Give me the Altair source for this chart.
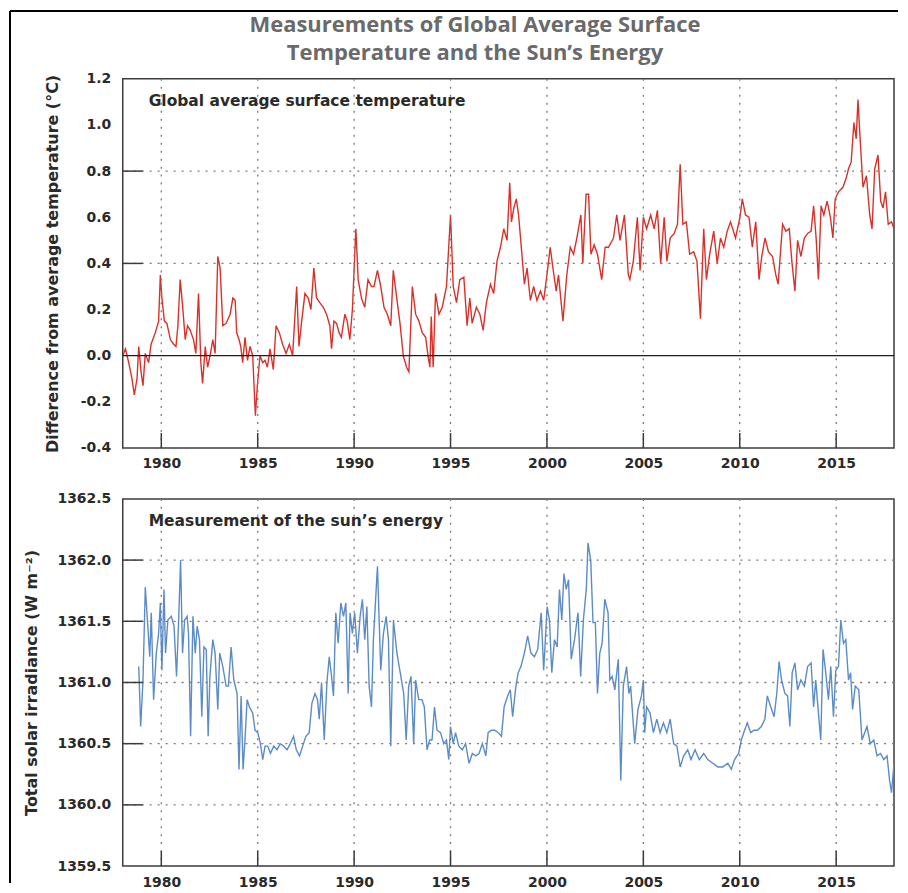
import altair as alt
import pandas as pd

# ---------------- data ----------------
temp_year = [
    1978.00, 1978.14, 1978.31, 1978.48, 1978.60, 1978.74, 1978.83, 1978.95, 1979.05, 1979.17,
    1979.34, 1979.47, 1979.69, 1979.86, 1979.95, 1980.03, 1980.16, 1980.29, 1980.47, 1980.64,
    1980.76, 1980.86, 1980.98, 1981.12, 1981.24, 1981.36, 1981.50, 1981.67, 1981.79, 1981.93,
    1982.05, 1982.14, 1982.28, 1982.40, 1982.53, 1982.67, 1982.79, 1982.93, 1983.05, 1983.19,
    1983.36, 1983.57, 1983.71, 1983.83, 1983.91, 1984.03, 1984.12, 1984.22, 1984.34, 1984.47,
    1984.60, 1984.74, 1984.88, 1984.98, 1985.12, 1985.26, 1985.38, 1985.50, 1985.64, 1985.81,
    1985.95, 1986.12, 1986.29, 1986.47, 1986.64, 1986.81, 1987.02, 1987.14, 1987.28, 1987.45,
    1987.62, 1987.76, 1987.91, 1988.05, 1988.22, 1988.40, 1988.57, 1988.74, 1988.83, 1988.95,
    1989.09, 1989.22, 1989.34, 1989.52, 1989.64, 1989.78, 1989.91, 1990.09, 1990.21, 1990.38,
    1990.55, 1990.72, 1990.90,
    1991.03, 1991.21, 1991.38, 1991.55, 1991.72, 1991.90, 1992.03, 1992.21, 1992.38, 1992.55,
    1992.72, 1992.84, 1993.02, 1993.19, 1993.36, 1993.53, 1993.71, 1993.83, 1993.93, 1994.00,
    1994.10, 1994.22, 1994.40, 1994.57, 1994.79, 1995.00, 1995.14, 1995.31, 1995.48, 1995.69,
    1995.86, 1996.00, 1996.12, 1996.34, 1996.52, 1996.69, 1996.86, 1997.07, 1997.24, 1997.41,
    1997.59, 1997.76, 1997.93, 1998.07, 1998.16, 1998.28, 1998.41, 1998.53, 1998.71, 1998.83,
    1998.97, 1999.14, 1999.31, 1999.48, 1999.66, 1999.83, 2000.00, 2000.17, 2000.31, 2000.48,
    2000.60, 2000.83, 2001.03, 2001.21, 2001.38, 2001.55, 2001.76, 2001.86, 2002.03, 2002.16,
    2002.28, 2002.45, 2002.62, 2002.84, 2003.02, 2003.19, 2003.45, 2003.62, 2003.79, 2004.02,
    2004.22,
    2004.30, 2004.48, 2004.69, 2004.83, 2005.00, 2005.17, 2005.38, 2005.56, 2005.73, 2005.90,
    2006.08, 2006.22, 2006.39, 2006.60, 2006.77, 2006.91, 2007.05, 2007.23, 2007.40, 2007.61,
    2007.78, 2007.96, 2008.13, 2008.27, 2008.44, 2008.65, 2008.83, 2009.00, 2009.17, 2009.35,
    2009.52, 2009.78, 2010.01, 2010.13, 2010.30, 2010.48, 2010.65, 2010.83, 2011.00, 2011.14,
    2011.31, 2011.49, 2011.70, 2011.87, 2011.99, 2012.22, 2012.39, 2012.57, 2012.70, 2012.86,
    2013.00, 2013.17, 2013.35, 2013.52, 2013.70, 2013.83, 2013.96, 2014.08, 2014.22, 2014.36,
    2014.53, 2014.70, 2014.83, 2014.95, 2015.12, 2015.35, 2015.52, 2015.64, 2015.78, 2015.92,
    2016.04, 2016.13, 2016.27, 2016.39, 2016.57, 2016.74, 2016.86, 2017.00, 2017.17, 2017.31,
    2017.43, 2017.56, 2017.70, 2017.87, 2018.00,
]
temp_anom = [
    0.00, 0.03, -0.03, -0.10, -0.17, -0.10, 0.04, -0.07, -0.13, 0.01,
    -0.03, 0.05, 0.10, 0.15, 0.35, 0.25, 0.15, 0.14, 0.07, 0.05,
    0.04, 0.13, 0.33, 0.20, 0.07, 0.13, 0.11, 0.07, 0.01, 0.27,
    -0.03, -0.12, 0.04, -0.05, 0.00, 0.07, 0.01, 0.43, 0.38, 0.13,
    0.14, 0.18, 0.25, 0.24, 0.10, 0.07, 0.04, -0.03, 0.08, -0.02,
    0.04, 0.00, -0.26, -0.13, 0.00, -0.03, -0.02, -0.05, 0.03, -0.06,
    0.13, 0.10, 0.05, 0.01, 0.05, 0.00, 0.30, 0.04, 0.15, 0.27,
    0.25, 0.20, 0.38, 0.25, 0.23, 0.21, 0.18, 0.13, 0.03, 0.15,
    0.14, 0.10, 0.08, 0.18, 0.15, 0.07, 0.20, 0.55, 0.33, 0.25,
    0.21, 0.33, 0.30,
    0.30, 0.37, 0.30, 0.21, 0.18, 0.13, 0.37, 0.25, 0.14, 0.00,
    -0.05, -0.07, 0.30, 0.18, 0.15, 0.10, 0.08, 0.00, -0.05, 0.17,
    -0.05, 0.27, 0.18, 0.21, 0.30, 0.61, 0.30, 0.23, 0.33, 0.34,
    0.13, 0.25, 0.14, 0.21, 0.18, 0.11, 0.23, 0.31, 0.27, 0.41,
    0.47, 0.55, 0.50, 0.75, 0.58, 0.64, 0.68, 0.61, 0.43, 0.31,
    0.38, 0.24, 0.30, 0.24, 0.28, 0.24, 0.35, 0.47, 0.38, 0.28,
    0.35, 0.15, 0.35, 0.47, 0.44, 0.51, 0.61, 0.40, 0.70, 0.70,
    0.44, 0.48, 0.44, 0.33, 0.47, 0.47, 0.51, 0.61, 0.50, 0.61,
    0.35,
    0.33, 0.41, 0.60, 0.37, 0.60, 0.55, 0.61, 0.55, 0.63, 0.40,
    0.60, 0.41, 0.51, 0.53, 0.57, 0.83, 0.57, 0.58, 0.44, 0.45,
    0.41, 0.16, 0.55, 0.33, 0.44, 0.54, 0.40, 0.51, 0.47, 0.54,
    0.58, 0.51, 0.60, 0.68, 0.61, 0.60, 0.47, 0.58, 0.33, 0.43,
    0.51, 0.45, 0.43, 0.35, 0.31, 0.57, 0.54, 0.55, 0.41, 0.28,
    0.50, 0.43, 0.51, 0.53, 0.54, 0.65, 0.51, 0.33, 0.65, 0.61,
    0.67, 0.60, 0.51, 0.68, 0.71, 0.73, 0.77, 0.81, 0.84, 1.01,
    0.94, 1.11, 0.90, 0.73, 0.78, 0.61, 0.55, 0.81, 0.87, 0.67,
    0.64, 0.71, 0.57, 0.58, 0.55,
]

tsi_year = [
    1978.83, 1978.93, 1979.05, 1979.17, 1979.28, 1979.40, 1979.48, 1979.60, 1979.74, 1979.86,
    1979.95, 1980.03, 1980.14, 1980.22, 1980.34, 1980.52, 1980.66, 1980.79, 1980.90, 1981.00,
    1981.10, 1981.21, 1981.34, 1981.41, 1981.52, 1981.64, 1981.76, 1981.86, 1981.98, 1982.10,
    1982.21, 1982.33, 1982.43, 1982.52, 1982.67, 1982.79, 1982.93, 1983.03, 1983.19, 1983.36,
    1983.48, 1983.62, 1983.76, 1983.93, 1984.03, 1984.14, 1984.24, 1984.34, 1984.45, 1984.57,
    1984.74, 1984.86, 1985.00, 1985.14, 1985.26, 1985.38, 1985.52, 1985.66, 1985.83, 1986.00,
    1986.17, 1986.34, 1986.52, 1986.69, 1986.86, 1987.00, 1987.17, 1987.33, 1987.50, 1987.67,
    1987.81, 1987.97, 1988.10, 1988.19, 1988.31, 1988.45, 1988.59, 1988.71, 1988.83, 1988.93,
    1989.05, 1989.17, 1989.31, 1989.45, 1989.57, 1989.69, 1989.79, 1989.91, 1990.03, 1990.17,
    1990.31, 1990.43, 1990.55, 1990.66, 1990.78, 1990.90,
    1991.00, 1991.21, 1991.38, 1991.52, 1991.66, 1991.78, 1991.90, 1992.04, 1992.22, 1992.39,
    1992.57, 1992.70, 1992.83, 1992.95, 1993.09, 1993.19, 1993.35, 1993.52, 1993.64, 1993.78,
    1993.92, 1994.04, 1994.17, 1994.30, 1994.48, 1994.65, 1994.79, 1994.91, 1995.00, 1995.14,
    1995.26, 1995.43, 1995.61, 1995.78, 1995.96, 1996.13, 1996.30, 1996.48, 1996.65, 1996.83,
    1996.95, 1997.12, 1997.30, 1997.47, 1997.64, 1997.78, 1997.96, 1998.10, 1998.22, 1998.39,
    1998.51, 1998.65, 1998.83, 1999.00, 1999.17, 1999.35, 1999.52, 1999.70, 1999.83, 2000.01,
    2000.13, 2000.25, 2000.39, 2000.53, 2000.65, 2000.77, 2000.88, 2001.00, 2001.12, 2001.26,
    2001.43, 2001.61, 2001.75, 2001.89, 2002.04, 2002.13, 2002.27, 2002.39, 2002.51, 2002.62,
    2002.74, 2002.86, 2003.00, 2003.17, 2003.26, 2003.38, 2003.52, 2003.70, 2003.83, 2003.96,
    2004.13, 2004.25,
    2004.34, 2004.55, 2004.72, 2004.90, 2005.00, 2005.07, 2005.17, 2005.35, 2005.52, 2005.70,
    2005.87, 2006.04, 2006.22, 2006.39, 2006.57, 2006.74, 2006.91, 2007.09, 2007.30, 2007.47,
    2007.68, 2007.90, 2008.13, 2008.34, 2008.60, 2008.86, 2009.12, 2009.38, 2009.56, 2009.73,
    2009.94, 2010.08, 2010.25, 2010.39, 2010.57, 2010.74, 2010.91, 2011.12, 2011.30, 2011.43,
    2011.61, 2011.78, 2011.92, 2012.04, 2012.17, 2012.34, 2012.48, 2012.60, 2012.72, 2012.86,
    2013.00, 2013.17, 2013.35, 2013.52, 2013.70, 2013.83, 2013.94, 2014.08, 2014.20, 2014.32,
    2014.46, 2014.60, 2014.72, 2014.86, 2014.98, 2015.12, 2015.24, 2015.38, 2015.50, 2015.64,
    2015.75, 2015.85, 2015.99, 2016.17, 2016.34, 2016.48, 2016.60, 2016.77, 2016.95, 2017.12,
    2017.30, 2017.47, 2017.64, 2017.77, 2017.87, 2018.00,
]
tsi_value = [
    1361.13, 1360.64, 1361.02, 1361.78, 1361.51, 1361.21, 1361.57, 1360.86, 1361.24, 1361.40,
    1361.65, 1361.10, 1361.76, 1361.24, 1361.51, 1361.54, 1361.46, 1361.05, 1361.51, 1362.00,
    1361.24, 1361.51, 1361.54, 1361.40, 1360.56, 1361.54, 1361.24, 1361.46, 1361.35, 1360.72,
    1361.29, 1361.27, 1360.56, 1361.05, 1361.35, 1361.24, 1360.78, 1361.24, 1361.13, 1360.97,
    1360.97, 1361.29, 1361.02, 1360.91, 1360.29, 1360.89, 1360.29, 1360.53, 1360.86, 1360.80,
    1360.75, 1360.61, 1360.59, 1360.50, 1360.37, 1360.48, 1360.48, 1360.42, 1360.48, 1360.45,
    1360.50, 1360.48, 1360.45, 1360.50, 1360.56, 1360.45, 1360.40, 1360.48, 1360.56, 1360.59,
    1360.83, 1360.91, 1360.86, 1360.70, 1361.00, 1360.53, 1361.00, 1361.21, 1361.05, 1360.89,
    1361.57, 1361.32, 1361.65, 1361.54, 1361.65, 1360.91, 1361.57, 1361.40, 1361.57, 1361.24,
    1361.54, 1361.68, 1361.35, 1361.62, 1360.97, 1360.80,
    1361.35, 1361.95, 1361.10, 1361.40, 1361.54, 1361.35, 1360.48, 1361.51, 1361.24, 1361.08,
    1360.91, 1360.53, 1360.97, 1361.05, 1360.50, 1361.02, 1360.86, 1360.86, 1360.80, 1360.45,
    1360.53, 1360.53, 1360.80, 1360.61, 1360.59, 1360.50, 1360.53, 1360.37, 1360.64, 1360.50,
    1360.59, 1360.48, 1360.45, 1360.50, 1360.34, 1360.42, 1360.40, 1360.42, 1360.50, 1360.40,
    1360.59, 1360.61, 1360.61, 1360.59, 1360.56, 1360.80, 1360.89, 1360.94, 1360.72, 1360.97,
    1361.08, 1361.13, 1361.24, 1361.38, 1361.24, 1361.21, 1361.27, 1361.57, 1361.10, 1361.62,
    1361.51, 1361.08, 1361.35, 1361.29, 1361.76, 1361.51, 1361.89, 1361.76, 1361.84, 1361.19,
    1361.35, 1361.57, 1361.05, 1361.51, 1361.76, 1362.14, 1362.00, 1361.49, 1361.49, 1360.91,
    1361.24, 1361.32, 1361.68, 1361.57, 1361.02, 1361.05, 1360.94, 1361.19, 1360.20, 1360.97,
    1361.13, 1360.91,
    1360.97, 1360.50, 1360.78, 1360.89, 1361.02, 1360.59, 1360.80, 1360.75, 1360.59, 1360.70,
    1360.59, 1360.67, 1360.59, 1360.70, 1360.50, 1360.48, 1360.31, 1360.40, 1360.45, 1360.37,
    1360.45, 1360.37, 1360.42, 1360.37, 1360.34, 1360.31, 1360.31, 1360.34, 1360.29, 1360.37,
    1360.42, 1360.53, 1360.61, 1360.67, 1360.59, 1360.61, 1360.61, 1360.64, 1360.70, 1360.89,
    1360.80, 1360.72, 1360.91, 1361.17, 1361.02, 1360.91, 1360.89, 1360.64, 1361.08, 1361.16,
    1360.94, 1361.02, 1360.97, 1361.13, 1361.16, 1360.80, 1361.02, 1360.75, 1360.53, 1361.27,
    1361.08, 1360.86, 1361.13, 1360.72, 1361.10, 1361.13, 1361.51, 1361.32, 1361.35, 1361.02,
    1361.08, 1360.78, 1360.97, 1360.94, 1360.53, 1360.59, 1360.64, 1360.50, 1360.53, 1360.40,
    1360.42, 1360.37, 1360.40, 1360.20, 1360.10, 1360.34,
]

year_ticks = [1980, 1985, 1990, 1995, 2000, 2005, 2010, 2015]
temp_label_values = [-0.4, -0.2, 0.0, 0.2, 0.4, 0.6, 0.8, 1.0, 1.2]
temp_grid_values = [0.4, 0.8]
temp_tick_values = [0.8, 0.4]
temp_zero_value = [0.0]
tsi_label_values = [1359.5, 1360.0, 1360.5, 1361.0, 1361.5, 1362.0, 1362.5]
tsi_grid_values = [1360.0, 1360.5, 1361.0, 1361.5, 1362.0]

title_text = "Measurements of Global Average Surface\nTemperature and the Sun\u2019s Energy"
temp_panel_label = "Global average surface temperature"
tsi_panel_label = "Measurement of the sun\u2019s energy"
temp_axis_title = "Difference from average temperature (\u00b0C)"
tsi_axis_title = "Total solar irradiance (W m\u207b\u00b2)"

# ---------------- styling ----------------
W, H1, H2 = 773, 370, 368
TICK_FONT = "DejaVu Sans"
TEXT_FONT = "Open Sans"
INK = "#2a2a2a"
GRID = "#7a7a7a"
RED = "#d8312a"
BLUE = "#5b8cc8"

x_scale = alt.Scale(domain=[1978, 2018], nice=False, zero=False)
t_scale = alt.Scale(domain=[-0.4, 1.2], nice=False, zero=False)
s_scale = alt.Scale(domain=[1359.5, 1362.5], nice=False, zero=False)

n = min(len(temp_year), len(temp_anom))
temp_df = pd.DataFrame({"year": temp_year[:n], "anomaly": temp_anom[:n]})
m = min(len(tsi_year), len(tsi_value))
tsi_df = pd.DataFrame({"year": tsi_year[:m], "tsi": tsi_value[:m]})

X_AXIS = alt.Axis(values=year_ticks, format="d", title=None, grid=False, ticks=False,
                  domain=False, labelFont=TICK_FONT, labelFontSize=14,
                  labelFontWeight="bold", labelColor=INK, labelPadding=9,
                  labelFlush=False)


def y_axis(values, title, title_pad):
    return alt.Axis(values=values, title=title, grid=False, ticks=False, domain=False,
                    labelExpr="replace(format(datum.value, '.1f'), '\u2212', '-')",
                    labelFont=TICK_FONT, labelFontSize=14, labelFontWeight="bold",
                    labelColor=INK, labelPadding=12, labelFlush=False,
                    titleFont=TICK_FONT, titleFontSize=16, titleFontWeight="bold",
                    titleColor=INK, titlePadding=title_pad)


def panel(df, field, y_scale, color, y_ax, grid_values, tick_values,
          panel_label, height, extra_values=None):
    def X(f="year:Q"):
        return alt.X(f, scale=x_scale, axis=X_AXIS)

    def Y(f):
        return alt.Y(f, scale=y_scale, axis=y_ax)

    line = alt.Chart(df).mark_line(color=color, strokeWidth=1.4, clip=True).encode(
        x=X(), y=Y(field + ":Q"))
    vgrid = alt.Chart(pd.DataFrame({"year": year_ticks})).mark_rule(
        color=GRID, strokeDash=[2, 6], strokeWidth=1.3).encode(x=X())
    hgrid = alt.Chart(pd.DataFrame({field: grid_values})).mark_rule(
        color=GRID, strokeDash=[2, 6], strokeWidth=1.3).encode(y=Y(field + ":Q"))
    xticks = alt.Chart(pd.DataFrame({"year": year_ticks})).mark_rule(
        color="#3a3a3a", strokeWidth=1.5).encode(
        x=X(), y=alt.value(height), y2=alt.value(height - 15))
    yticks = alt.Chart(pd.DataFrame({field: tick_values})).mark_rule(
        color="#3a3a3a", strokeWidth=1.5).encode(
        y=Y(field + ":Q"), x=alt.value(0), x2=alt.value(20))
    label = alt.Chart(pd.DataFrame({"t": [panel_label]})).mark_text(
        align="left", baseline="middle", font=TICK_FONT, fontSize=15.5,
        fontWeight="bold", color=INK).encode(
        text="t:N", x=alt.value(26), y=alt.value(22))
    layers = [line, vgrid, hgrid]
    if extra_values is not None:
        zero = alt.Chart(pd.DataFrame({field: extra_values})).mark_rule(
            color="#1e1e1e", strokeWidth=1.3).encode(y=Y(field + ":Q"))
        layers.append(zero)
    layers += [xticks, yticks, label]
    return layers


title = alt.Chart(pd.DataFrame({"t": [title_text]})).mark_text(
    align="center", baseline="alphabetic", font=TEXT_FONT, fontSize=22,
    fontWeight="bold", color="#6a6a6a", lineBreak="\n", lineHeight=28).encode(
    text="t:N", x=alt.value(353), y=alt.value(-47))

# decorative outer frame (top and left edges, as in the reference)
frame_top = alt.Chart(pd.DataFrame({"k": [0]})).mark_rule(color="#000000", strokeWidth=2).encode(
    x=alt.value(-113), x2=alt.value(777), y=alt.value(-68))
frame_left = alt.Chart(pd.DataFrame({"k": [0]})).mark_rule(color="#000000", strokeWidth=2).encode(
    x=alt.value(-113), y=alt.value(-68), y2=alt.value(806))

top_layers = panel(temp_df, "anomaly", t_scale, RED,
                   y_axis(temp_label_values, temp_axis_title, 20),
                   temp_grid_values, temp_tick_values, temp_panel_label, H1,
                   extra_values=temp_zero_value)
top = alt.layer(*top_layers, title, frame_top, frame_left).properties(
    width=W, height=H1)

bottom_layers = panel(tsi_df, "tsi", s_scale, BLUE,
                      y_axis(tsi_label_values, tsi_axis_title, 17),
                      tsi_grid_values, tsi_grid_values, tsi_panel_label, H2)
bottom = alt.layer(*bottom_layers).properties(width=W, height=H2)

chart = alt.vconcat(top, bottom, spacing=51, bounds="flush").properties(
    padding=0
).configure_view(stroke="#3c3c3c", strokeWidth=1.5)

chart.save("out.html", embed_options={"renderer": "svg", "actions": False})
